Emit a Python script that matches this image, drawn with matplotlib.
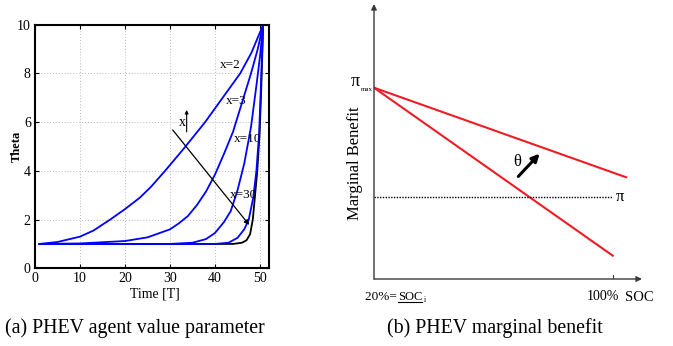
import matplotlib
matplotlib.use('Agg')
import matplotlib.pyplot as plt

plt.rcParams['font.family'] = ['Liberation Serif', 'DejaVu Serif']

# ---------------- data: (a) agent value parameter ----------------
time_ticks = [0, 10, 20, 30, 40, 50]
theta_ticks = [0, 2, 4, 6, 8, 10]

t_x2 = [1, 5, 10, 13, 16.7, 20, 23.3, 25.8, 28.9, 33, 37.8, 41.5, 45.6, 48.1, 50.7]
th_x2 = [1, 1.08, 1.3, 1.55, 2.0, 2.43, 2.9, 3.35, 4.0, 4.9, 6.0, 6.95, 8.0, 8.85, 10]

t_x3 = [1, 10, 20, 25, 30, 32, 34, 36, 38, 40, 42, 44, 46, 48, 49.5, 50.7]
th_x3 = [1, 1.02, 1.12, 1.27, 1.6, 1.85, 2.15, 2.6, 3.15, 3.85, 4.7, 5.6, 6.8, 8.0, 9.0, 10]

t_x10 = [1, 30, 35, 38, 40, 42, 43.5, 45, 46.5, 48, 49.2, 50, 50.7]
th_x10 = [1, 1.0, 1.05, 1.2, 1.45, 1.9, 2.35, 3.2, 4.3, 5.8, 7.5, 8.7, 10]

t_x30 = [1, 40, 43, 45, 46.5, 47.5, 48.5, 49.2, 49.8, 50.2, 50.7]
th_x30 = [1, 1.0, 1.05, 1.25, 1.6, 2.0, 2.9, 4.0, 5.5, 7.5, 10]

t_xbig = [1, 44, 46, 47, 47.8, 48.4, 48.9, 49.4, 49.9, 50.3, 50.7]
th_xbig = [1, 1.0, 1.05, 1.15, 1.4, 2.0, 3.0, 4.0, 5.5, 7.5, 10]

curve_labels = ['x=2', 'x=3', 'x=10', 'x=30']

# ---------------- data: (b) marginal benefit ----------------
soc_start = 0.2
soc_full = 1.0
pi_max = 1.0
pi_price = 0.43
soc_low_end, mb_low_end = 1.0, 0.122
soc_high_end, mb_high_end = 1.0445, 0.532

W, H = 673, 346
fig = plt.figure(figsize=(W / 100, H / 100), dpi=100)

# ---------- left panel ----------
ax = fig.add_axes([35 / W, (H - 268.3) / H, 234 / W, 243.6 / H])
ax.plot(t_xbig, th_xbig, color='black', lw=1.3)
ax.plot(t_x30, th_x30, color='#0000ff', lw=1.3)
ax.plot(t_x10, th_x10, color='#0000ff', lw=1.3)
ax.plot(t_x3, th_x3, color='#0000ff', lw=1.3)
ax.plot(t_x2, th_x2, color='#0000ff', lw=1.3)
ax.set_xlim(0, 52)
ax.set_ylim(0, 10)
ax.set_xticks(time_ticks)
ax.set_yticks(theta_ticks)
ax.tick_params(direction='in', length=3, width=0.8, top=True, right=True,
               labelsize=10, pad=3)
for s in ax.spines.values():
    s.set_linewidth(1.5)
ax.grid(True, linestyle=(0, (1, 2)), color='#b8b8b8', lw=0.7)
ax.set_axisbelow(True)

# curve labels
ax.text(43.3, 8.35, curve_labels[0], ha='center', va='center', fontsize=9.5)
ax.text(44.8, 6.87, curve_labels[1], ha='center', va='center', fontsize=9.5)
ax.text(47.2, 5.3, curve_labels[2], ha='center', va='center', fontsize=9.5)
ax.text(46.3, 3.0, curve_labels[3], ha='center', va='center', fontsize=9.5)
ax.annotate('', xy=(47.6, 1.78), xytext=(30.6, 5.68),
            arrowprops=dict(arrowstyle='-|>', lw=0.9, color='black',
                            mutation_scale=7, shrinkA=0, shrinkB=0))
ax.annotate('', xy=(33.7, 6.5), xytext=(33.7, 5.6),
            arrowprops=dict(arrowstyle='-|>', lw=0.8, color='black',
                            mutation_scale=5, shrinkA=0, shrinkB=0))
ax.text(32.8, 6.0, 'x', ha='center', va='center', fontsize=10)

fig.text(17 / W, 1 - 146 / H, 'Theta', rotation=90, ha='center', va='center',
         fontsize=9, fontweight='bold')
fig.text(155 / W, 1 - 294.5 / H, 'Time [T]', ha='center', va='center', fontsize=10)

# ---------- right panel ----------
bx = fig.add_axes([374 / W, (H - 279) / H, 268 / W, 275 / H])
bx.set_xlim(soc_start, 1.098)
bx.set_ylim(0, 1.4375)
bx.axis('off')
axcol = '#3a3a3a'
bx.annotate('', xy=(1.098, 0), xytext=(soc_start, 0),
            arrowprops=dict(arrowstyle='-|>', lw=1.0, color=axcol,
                            mutation_scale=8, shrinkA=0, shrinkB=0))
bx.annotate('', xy=(soc_start, 1.4375), xytext=(soc_start, 0),
            arrowprops=dict(arrowstyle='-|>', lw=1.0, color=axcol,
                            mutation_scale=8, shrinkA=0, shrinkB=0))
bx.plot([soc_full, soc_full], [0, 0.02], color=axcol, lw=0.8)
bx.plot([soc_start, soc_high_end], [pi_max, mb_high_end], color='#ee1c25', lw=1.5)
bx.plot([soc_start, soc_low_end], [pi_max, mb_low_end], color='#ee1c25', lw=1.5)
bx.plot([soc_start, soc_full], [pi_price, pi_price], color='black', lw=1.0,
        linestyle=(0, (1, 1)))
bx.text(soc_full + 0.01, pi_price, 'π', ha='left', va='center', fontsize=12)
bx.text(0.151, 1.035, 'π', ha='right', va='center', fontsize=13)
bx.text(0.197, 0.99, 'max', ha='right', va='center', fontsize=5)

bx.annotate('', xy=(0.755, 0.655), xytext=(0.6835, 0.536),
            arrowprops=dict(arrowstyle='-|>', lw=2.2, color='black',
                            mutation_scale=11, shrinkA=0, shrinkB=0))
bx.text(0.679, 0.61, 'θ', ha='center', va='center', fontsize=12)

fig.text(365 / W, 1 - 296.5 / H, '20%= ', ha='left', va='center', fontsize=9.5)
fig.text(398 / W, 1 - 296.5 / H, 'SOC', ha='left', va='center', fontsize=9)
fig.text(423.5 / W, 1 - 299.5 / H, 'i', ha='left', va='center', fontsize=5.5)
fig.lines.append(plt.Line2D([398 / W, 421.5 / W], [1 - 302 / H, 1 - 302 / H],
                            transform=fig.transFigure, color='black', lw=0.8))
fig.text(603 / W, 1 - 296.5 / H, '100%', ha='center', va='center', fontsize=10)
fig.text(639 / W, 1 - 297.5 / H, 'SOC', ha='center', va='center', fontsize=10.5)
fig.text(355 / W, 1 - 163 / H, 'Marginal Benefit', rotation=90, ha='center',
         va='center', fontsize=12)

# captions
fig.text(135 / W, 1 - 328 / H, '(a) PHEV agent value parameter', ha='center',
         va='center', fontsize=14.3)
fig.text(495 / W, 1 - 328 / H, '(b) PHEV marginal benefit', ha='center',
         va='center', fontsize=14.3)

fig.savefig('out.png', dpi=100)
